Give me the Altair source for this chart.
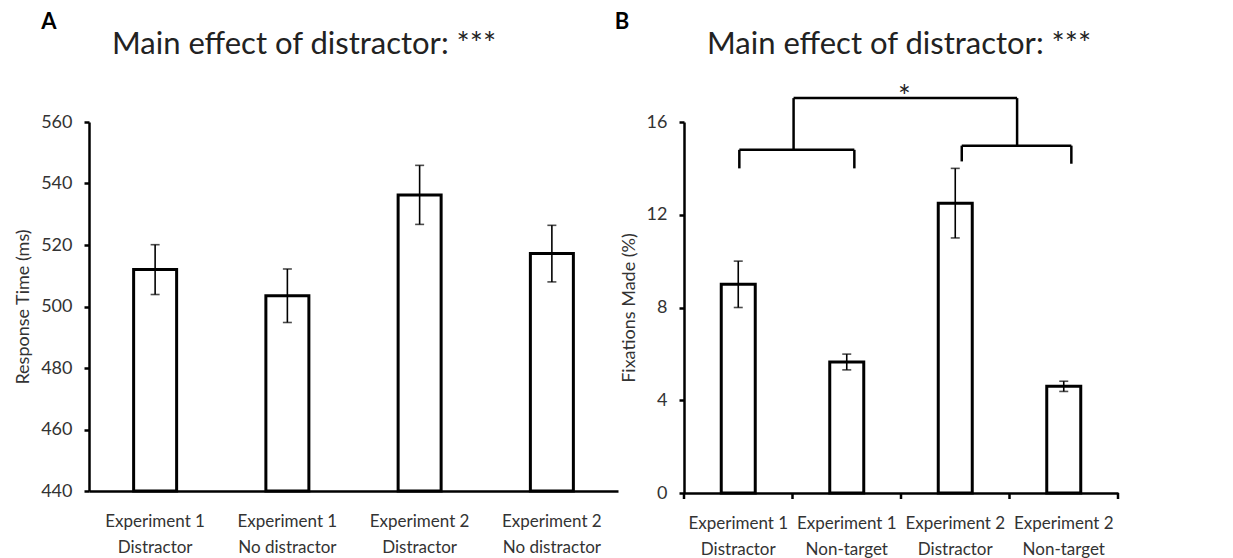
import altair as alt
import pandas as pd

FONT = "Lato"
INK = "#333333"

# Panel A: response times (ms), mean and error
a_conditions = ["Experiment 1|Distractor", "Experiment 1|No distractor",
                "Experiment 2|Distractor", "Experiment 2|No distractor"]
a_rt = [512.0, 503.5, 536.3, 517.2]
a_err = [8.1, 8.7, 9.6, 9.2]
a_ticks = [440, 460, 480, 500, 520, 540, 560]

# Panel B: fixations made (%), mean and error
b_conditions = ["Experiment 1|Distractor", "Experiment 1|Non-target",
                "Experiment 2|Distractor", "Experiment 2|Non-target"]
b_fix = [9.0, 5.65, 12.5, 4.6]
b_err = [1.0, 0.34, 1.5, 0.22]
b_ticks = [0, 4, 8, 12, 16]

# significance brackets: segment ends, x in category units (0-4), y in %
seg_x = [0.51, 0.51, 1.57, 2.56, 2.56, 3.57, 1.01, 1.01, 3.07]
seg_x2 = [1.57, 0.51, 1.57, 3.57, 2.56, 3.57, 3.07, 1.01, 3.07]
seg_y = [14.8, 14.0, 14.0, 14.98, 14.3, 14.2, 17.03, 14.8, 14.98]
seg_y2 = [14.8, 14.8, 14.8, 14.98, 14.98, 14.98, 17.03, 17.03, 17.03]
star_x = [2.03]
star_y = [17.03]
star_txt = ["*"]

title_text = "Main effect of distractor: ***"


def panel(conds, vals, errs, ymin, ymax, yticks, ytitle, W, H, bar_size,
          letter, letter_x, title_x, boundary_ticks=False, extra=None):
    df = pd.DataFrame({
        "cond": conds,
        "val": vals,
        "lo": [v - e for v, e in zip(vals, errs)],
        "hi": [v + e for v, e in zip(vals, errs)],
        "base": [ymin] * len(conds),
    })
    yscale = alt.Scale(domain=[ymin, ymax], nice=False, zero=False)
    xscale = alt.Scale(paddingInner=0, paddingOuter=0)
    x_axis = alt.Axis(labelAngle=0, labelExpr="split(datum.label, '|')",
                      ticks=False, domainColor="black", domainWidth=2.5,
                      labelFont=FONT, labelFontSize=17, labelColor=INK,
                      labelPadding=22, labelLineHeight=26, labelBaseline="top")
    y_axis = alt.Axis(values=yticks, grid=False, domainColor="black",
                      domainWidth=2.5, tickColor="black", tickWidth=2.5,
                      tickSize=5, labelFont=FONT, labelFontSize=18,
                      labelColor=INK, labelPadding=12,
                      titleFont=FONT, titleFontSize=18,
                      titleFontWeight="normal", titleColor=INK,
                      titlePadding=8)

    def xe(**kw):
        return alt.X("cond:N", sort=conds, scale=xscale, title=None, axis=x_axis, **kw)

    def ye(field):
        return alt.Y(field, scale=yscale, title=ytitle, axis=y_axis)

    base = alt.Chart(df)
    bars = base.mark_bar(size=bar_size, fill="white", stroke="black",
                         strokeWidth=3).encode(x=xe(), y=ye("val:Q"), y2="base:Q")
    err = base.mark_rule(color="black", strokeWidth=1.6).encode(
        x=xe(), y=ye("lo:Q"), y2="hi:Q")
    cap_lo = base.mark_tick(color="black", size=9, thickness=1.6).encode(
        x=xe(), y=ye("lo:Q"))
    cap_hi = base.mark_tick(color="black", size=9, thickness=1.6).encode(
        x=xe(), y=ye("hi:Q"))
    layers = [bars, err, cap_lo, cap_hi]
    if boundary_ticks:
        starts = base.mark_rule(color="black", strokeWidth=2.5).encode(
            x=xe(bandPosition=0), y=alt.value(H), y2=alt.value(H + 6))
        end = alt.Chart(df.iloc[-1:]).mark_rule(color="black", strokeWidth=2.5).encode(
            x=xe(bandPosition=1), y=alt.value(H), y2=alt.value(H + 6))
        layers += [starts, end]
    letter_mark = alt.Chart(pd.DataFrame({"t": [letter]})).mark_text(
        font=FONT, fontSize=22, fontWeight="bold", color="black",
        align="center", baseline="alphabetic").encode(
        text="t:N", x=alt.value(letter_x), y=alt.value(-93))
    title_mark = alt.Chart(pd.DataFrame({"t": [title_text]})).mark_text(
        font=FONT, fontSize=31, color="#222222",
        align="left", baseline="alphabetic").encode(
        text="t:N", x=alt.value(title_x), y=alt.value(-68))
    inner = alt.layer(*layers, letter_mark, title_mark)
    if extra is not None:
        inner = alt.layer(inner, *extra).resolve_scale(x="independent")
    return inner.properties(width=W, height=H)


seg_df = pd.DataFrame({"x": seg_x, "x2": seg_x2, "y": seg_y, "y2": seg_y2})
star_df = pd.DataFrame({"x": star_x, "y": star_y, "t": star_txt})
bx = alt.Scale(domain=[0, 4], nice=False, zero=False)
by = alt.Scale(domain=[0, 16], nice=False, zero=False)
brackets = alt.Chart(seg_df).mark_rule(color="black", strokeWidth=2.5).encode(
    x=alt.X("x:Q", scale=bx, axis=None), x2="x2:Q",
    y=alt.Y("y:Q", scale=by, title="Fixations Made (%)"), y2="y2:Q")
star = alt.Chart(star_df).mark_text(font=FONT, fontSize=30, color="#222222",
                                    baseline="alphabetic", dy=9).encode(
    x=alt.X("x:Q", scale=bx, axis=None),
    y=alt.Y("y:Q", scale=by, title="Fixations Made (%)"), text="t:N")

panel_a = panel(a_conditions, a_rt, a_err, 440, 560, a_ticks,
                "Response Time (ms)", 529, 369, 43, "A", -40, 23)
panel_b = panel(b_conditions, b_fix, b_err, 0, 16, b_ticks,
                "Fixations Made (%)", 434, 371, 34, "B", -62, 23,
                boundary_ticks=True, extra=[brackets, star])

chart = alt.hconcat(panel_a, panel_b, spacing=-4).properties(
    padding={"left": 14, "top": 11, "right": 5, "bottom": 5},
    background="white",
).configure_view(stroke=None)

chart.save("out.html", embed_options={"renderer": "svg", "actions": False})
